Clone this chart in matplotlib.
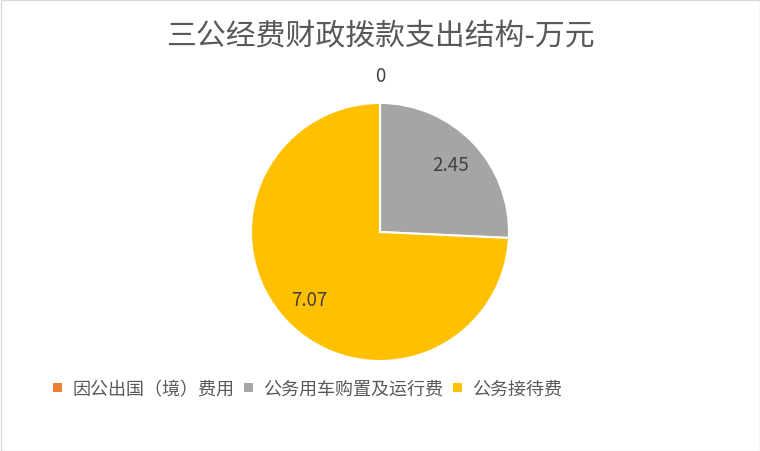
import numpy as np
import matplotlib
matplotlib.use('Agg')
import matplotlib.pyplot as plt
from matplotlib.patches import Rectangle

plt.rcParams['font.family'] = ['Noto Sans CJK SC', 'DejaVu Sans']

title = '三公经费财政拨款支出结构-万元'
categories = ['因公出国（境）费用', '公务用车购置及运行费', '公务接待费']
values = [0, 2.45, 7.07]
colors = ['#ED7D31', '#A5A5A5', '#FFC000']
label_dist = [1.21, 0.76, 0.76]

fig = plt.figure(figsize=(7.6, 4.52), dpi=100, facecolor='white')
fig.patches.append(Rectangle((0.5 / 760, 0.5 / 452), 1 - 1 / 760, 1 - 1 / 452,
                             transform=fig.transFigure, fill=False,
                             edgecolor='#D9D9D9', linewidth=1))

cx, cy, r = 380, 233, 129
ax = fig.add_axes([(cx - r) / 760, (452 - cy - r) / 452, 2 * r / 760, 2 * r / 452])
wedges, _ = ax.pie(values, colors=colors, startangle=90, counterclock=False,
                   wedgeprops=dict(edgecolor='white', linewidth=1.5))
ax.set_xlim(-1, 1)
ax.set_ylim(-1, 1)
ax.set_aspect('equal')

total = sum(values)
start = 90.0
for v, d in zip(values, label_dist):
    span = v / total * 360
    mid = np.deg2rad(start - span / 2)
    ax.text(d * np.cos(mid), d * np.sin(mid), f'{v:g}', ha='center', va='center',
            fontsize=13.5, color='#404040', clip_on=False)
    start -= span

fig.text(0.5, 1 - 37 / 452, title, ha='center', va='center', fontsize=21.5, color='#595959')

fig.legend(wedges, categories, loc='center', bbox_to_anchor=(307 / 760, 1 - 390 / 452),
           ncol=3, frameon=False, fontsize=13, handlelength=0.6, handleheight=0.6,
           handletextpad=0.5, columnspacing=0.5, labelcolor='#595959')

fig.savefig('out.png', dpi=100)
